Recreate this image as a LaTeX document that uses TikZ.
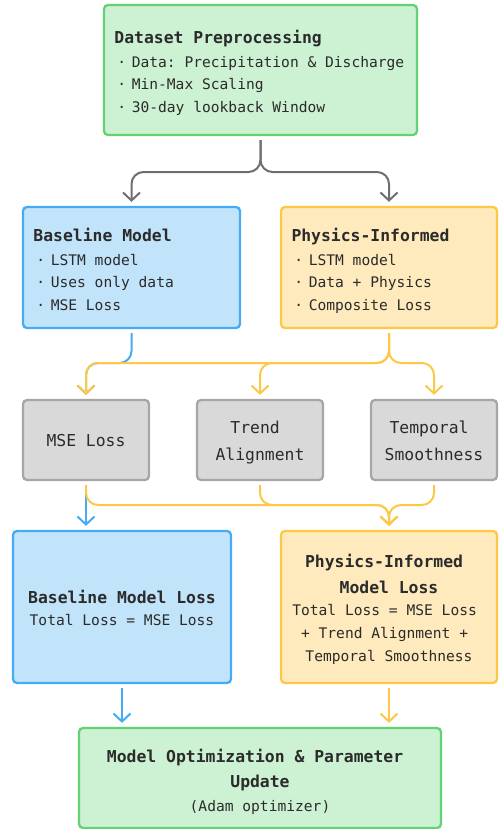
\documentclass[tikz,border=0pt]{standalone}
\usepackage{fontspec}
\setmainfont{DejaVu Sans Mono}
\usetikzlibrary{arrows.meta}
\definecolor{gfill}{HTML}{CDF2D3}
\definecolor{gline}{HTML}{63D273}
\definecolor{bfill}{HTML}{C2E4FB}
\definecolor{bline}{HTML}{45ABF5}
\definecolor{yfill}{HTML}{FEEABD}
\definecolor{yline}{HTML}{FDC846}
\definecolor{cfill}{HTML}{D9D9D9}
\definecolor{cline}{HTML}{A6A6A6}
\definecolor{aline}{HTML}{6E6E6E}
\definecolor{txt}{HTML}{2B2B2B}
\newcommand\rs{\frenchspacing\spaceskip=0.602em\relax\xspaceskip=0.602em\relax}
\newcommand\fbig{\fontsize{16.4bp}{23bp}\selectfont\rs}
\newcommand\fsm{\fontsize{14.6bp}{22.5bp}\selectfont\rs}
\newcommand\fgray{\fontsize{16.4bp}{27bp}\selectfont\rs}
\newcommand\bul{\makebox[17.3bp][l]{\hspace{2.9bp}·}}
\newcommand\ts[1]{\rule{0pt}{#1bp}}
\newcommand\bs{\rule[-5bp]{0pt}{0pt}}
\tikzset{
  box/.style={draw, rounded corners=4bp, line width=2.3bp, inner ysep=0pt, text=txt, font=\fsm,
    execute at begin node=\rs},
  lbox/.style={box, align=left, inner xsep=10.5bp},
  cbox/.style={box, align=center, inner xsep=4bp},
  conn/.style={line width=2bp, rounded corners=12bp, shorten <=4bp, shorten >=4bp,
    -{Straight Barb[length=8bp,width=17bp]}},
}
\begin{document}
\begin{tikzpicture}[x=1bp,y=-1bp]
\useasboundingbox (0,0) rectangle (499,829);
% boxes
\node[lbox, fill=gfill, draw=gline, minimum width=313bp, minimum height=130bp, text width=292bp] (top) at (260.5,70)
  {{\fbig\bfseries\ts{20}Dataset Preprocessing}\\[1.5bp] \bul Data: Precipitation \& Discharge\\ \bul Min-Max Scaling\\ \bul 30-day lookback Window\bs};
\node[lbox, fill=bfill, draw=bline, minimum width=217bp, minimum height=121bp, text width=196bp] (base) at (131.5,267.5)
  {{\fbig\bfseries\ts{21}Baseline Model}\\[1.5bp] \bul LSTM model\\ \bul Uses only data\\ \bul MSE Loss\bs};
\node[lbox, fill=yfill, draw=yline, minimum width=216bp, minimum height=121bp, text width=195bp] (phys) at (389,267.5)
  {{\fbig\bfseries\ts{21}Physics-Informed}\\[1.5bp] \bul LSTM model\\ \bul Data + Physics\\ \bul Composite Loss\bs};
\node[cbox, fill=cfill, draw=cline, minimum width=126bp, minimum height=80bp, text width=118bp, font=\fgray] (mse) at (86,440)
  {\ts{18.5}MSE Loss\bs};
\node[cbox, fill=cfill, draw=cline, minimum width=126bp, minimum height=80bp, text width=118bp, font=\fgray] (trend) at (260,440)
  {\ts{18.5}Trend\hphantom{x}\\Alignment\bs};
\node[cbox, fill=cfill, draw=cline, minimum width=126bp, minimum height=80bp, text width=118bp, font=\fgray] (temporal) at (434,440)
  {\ts{18.5}Temporal\hphantom{x}\\Smoothness\bs};
\node[cbox, fill=bfill, draw=bline, minimum width=218bp, minimum height=152bp, text width=210bp] (baseloss) at (122,607)
  {{\fbig\bfseries\ts{20}Baseline Model Loss}\\ Total Loss = MSE Loss\bs};
\node[cbox, fill=yfill, draw=yline, minimum width=216bp, minimum height=152bp, text width=208bp] (physloss) at (389,607)
  {{\fbig\bfseries\ts{20}Physics-Informed\hphantom{x}}\\[3.5bp] {\fbig\bfseries Model Loss}\\ Total Loss = MSE Loss\hphantom{x}\\[0.5bp] + Trend Alignment +\hphantom{x}\\[0.5bp] Temporal Smoothness\bs};
\node[cbox, fill=gfill, draw=gline, minimum width=362bp, minimum height=100bp, text width=354bp] (opt) at (260,778)
  {{\fbig\bfseries\ts{23}Model Optimization \& Parameter\hphantom{x}}\\[2.5bp] {\fbig\bfseries Update}\\[1.8bp] (Adam optimizer)\bs};
% routing rows
\coordinate (r1) at (0,172);
\coordinate (r2) at (0,363);
\coordinate (r3) at (0,505);
% connectors
\draw[conn, aline] (top.south) -- (top.south |- r1) -| (base.north);
\draw[conn, aline] (top.south) -- (top.south |- r1) -| (phys.north);
\draw[conn, bline] (base.south) -- (base.south |- r2) -| (mse.north);
\draw[conn, yline] (phys.south) -- (phys.south |- r2) -| (mse.north);
\draw[conn, yline] (phys.south) -- (phys.south |- r2) -| (trend.north);
\draw[conn, yline] (phys.south) -- (phys.south |- r2) -| (temporal.north);
\draw[conn, bline] (mse.south) -- (mse.south |- baseloss.north);
\draw[conn, yline] (mse.south) -- (mse.south |- r3) -| (physloss.north);
\draw[conn, yline] (trend.south) -- (trend.south |- r3) -| (physloss.north);
\draw[conn, yline] (temporal.south) -- (temporal.south |- r3) -| (physloss.north);
\draw[conn, bline] (baseloss.south) -- (baseloss.south |- opt.north);
\draw[conn, yline] (physloss.south) -- (physloss.south |- opt.north);
\end{tikzpicture}
\end{document}
